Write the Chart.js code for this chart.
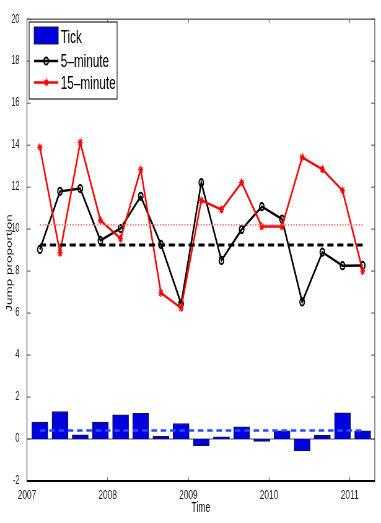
<!DOCTYPE html>
<html>
<head>
<meta charset="utf-8">
<script src="https://cdn.jsdelivr.net/npm/chart.js@4.4.1/dist/chart.umd.min.js"></script>
<style>
html, body { margin: 0; padding: 0; overflow: hidden; background: #fff; }
/* the reference is squeezed sideways, so draw wide and compress */
#wrap { position: absolute; left: 0; top: 0; width: 615px; height: 523px; transform: scaleX(0.6195); transform-origin: 0 0; }
</style>
</head>
<body>
<div id="wrap"><canvas id="jumpChart" width="615" height="523"></canvas></div>
<script>
const quarters = [2007.16, 2007.41, 2007.66, 2007.91, 2008.16, 2008.41, 2008.66, 2008.91, 2009.16, 2009.41, 2009.66, 2009.91, 2010.16, 2010.41, 2010.66, 2010.91, 2011.16];
const tickJumps = [0.81, 1.31, 0.20, 0.81, 1.15, 1.22, 0.13, 0.74, -0.32, 0.11, 0.58, -0.11, 0.39, -0.57, 0.17, 1.25, 0.39];
const fiveMinJumps = [9.03, 11.80, 11.93, 9.46, 10.03, 11.56, 9.27, 6.45, 12.21, 8.51, 9.98, 11.07, 10.48, 6.53, 8.90, 8.26, 8.27];
const fifteenMinJumps = [13.90, 8.87, 14.13, 10.42, 9.55, 12.84, 6.96, 6.24, 11.37, 10.93, 12.22, 10.12, 10.12, 13.42, 12.85, 11.84, 8.00];
const tickMean = 0.40;
const fiveMinMean = 9.24;
const fifteenMinMean = 10.20;
const legendLabels = ['Tick', '5\u2013minute', '15\u2013minute'];
const yTitle = 'Jump proportion';

const FONT = "'Liberation Sans', Arial, Helvetica, sans-serif";
const BAR_BLUE = '#0000dd';

function points(values) {
    return quarters.map((q, i) => ({ x: q, y: values[i] }));
}
function meanLine(m) {
    return [{ x: quarters[0], y: m }, { x: quarters[quarters.length - 1], y: m }];
}

// box round the plot, inward tick marks, zero baseline, legend, y title
const framePlugin = {
    id: 'frame',
    beforeDatasetsDraw(chart) {
        const { ctx, chartArea: a, scales: { y } } = chart;
        const y0 = y.getPixelForValue(0);
        ctx.save();
        ctx.strokeStyle = '#8a8a8a';
        ctx.lineWidth = 1.5;
        ctx.beginPath();
        ctx.moveTo(a.left, y0);
        ctx.lineTo(a.right, y0);
        ctx.stroke();
        ctx.restore();
    },
    afterDatasetsDraw(chart) {
        const { ctx, chartArea: a, scales: { x, y } } = chart;
        ctx.save();
        ctx.strokeStyle = '#555';
        ctx.lineWidth = 1.3;
        ctx.strokeRect(a.left, a.top, a.right - a.left, a.bottom - a.top);
        ctx.lineWidth = 1;
        ctx.beginPath();
        y.ticks.forEach(t => {
            const py = y.getPixelForValue(t.value);
            ctx.moveTo(a.left, py); ctx.lineTo(a.left + 6, py);
            ctx.moveTo(a.right, py); ctx.lineTo(a.right - 6, py);
        });
        x.ticks.forEach(t => {
            const px = x.getPixelForValue(t.value);
            ctx.moveTo(px, a.bottom); ctx.lineTo(px, a.bottom - 4);
            ctx.moveTo(px, a.top); ctx.lineTo(px, a.top + 4);
        });
        ctx.stroke();
        ctx.strokeStyle = '#000';
        ctx.lineWidth = 2;
        ctx.beginPath();
        ctx.moveTo(a.left, a.bottom);
        ctx.lineTo(a.right, a.bottom);
        ctx.stroke();
        ctx.restore();
    },
    afterDraw(chart) {
        const ctx = chart.ctx;
        ctx.save();
        // y axis title, sitting a bit below the middle like the original
        ctx.save();
        ctx.translate(15, 263);
        ctx.rotate(-Math.PI / 2);
        ctx.fillStyle = '#111';
        ctx.font = '13.5px ' + FONT;
        ctx.textAlign = 'center';
        ctx.textBaseline = 'middle';
        ctx.fillText(yTitle, 0, 0);
        ctx.restore();

        ctx.fillStyle = '#fff';
        ctx.fillRect(47, 22, 142, 77);
        ctx.strokeStyle = '#222';
        ctx.lineWidth = 1.2;
        ctx.strokeRect(47, 22, 142, 77);

        ctx.fillStyle = BAR_BLUE;
        ctx.fillRect(55, 27, 39, 17);
        ctx.strokeStyle = '#222';
        ctx.lineWidth = 1;
        ctx.strokeRect(55, 27, 39, 17);

        ctx.lineWidth = 2.5;
        ctx.strokeStyle = '#000';
        ctx.beginPath(); ctx.moveTo(55, 61); ctx.lineTo(94, 61); ctx.stroke();
        ctx.lineWidth = 2;
        ctx.beginPath(); ctx.arc(74.5, 61, 3.6, 0, Math.PI * 2); ctx.stroke();

        ctx.strokeStyle = '#ff0000';
        ctx.lineWidth = 2.5;
        ctx.beginPath(); ctx.moveTo(55, 82.5); ctx.lineTo(94, 82.5); ctx.stroke();
        ctx.lineWidth = 1.5;
        ctx.beginPath();
        ctx.moveTo(74.5, 78.5); ctx.lineTo(74.5, 86.5);
        ctx.moveTo(70.5, 82.5); ctx.lineTo(78.5, 82.5);
        ctx.moveTo(71.7, 79.7); ctx.lineTo(77.3, 85.3);
        ctx.moveTo(77.3, 79.7); ctx.lineTo(71.7, 85.3);
        ctx.stroke();

        ctx.fillStyle = '#000';
        ctx.font = '19px ' + FONT;
        ctx.textBaseline = 'alphabetic';
        ctx.fillText(legendLabels[0], 98, 43);
        ctx.fillText(legendLabels[1], 98, 67);
        ctx.fillText(legendLabels[2], 98, 88.5);
        ctx.restore();
    }
};

const ctx = document.getElementById('jumpChart').getContext('2d');
const chart = new Chart(ctx, {
    type: 'bar',
    data: {
        datasets: [
            {
                type: 'line',
                label: 'Tick mean',
                data: meanLine(tickMean),
                borderColor: '#2a4bff',
                borderWidth: 2.5,
                borderDash: [9, 6],
                pointRadius: 0,
                order: 0
            },
            {
                type: 'line',
                label: '5-minute mean',
                data: meanLine(fiveMinMean),
                borderColor: '#000',
                borderWidth: 3,
                borderDash: [10, 6],
                pointRadius: 0,
                order: 0
            },
            {
                type: 'line',
                label: '15-minute mean',
                data: meanLine(fifteenMinMean),
                borderColor: '#ff6a6a',
                borderWidth: 1.8,
                borderDash: [1.8, 2.6],
                pointRadius: 0,
                order: 0
            },
            {
                type: 'line',
                label: legendLabels[2],
                data: points(fifteenMinJumps),
                borderColor: '#ff0000',
                borderWidth: 2.5,
                pointStyle: 'star',
                pointRadius: 4,
                pointBorderWidth: 1.5,
                pointBorderColor: '#ff0000',
                tension: 0,
                order: 2
            },
            {
                type: 'line',
                label: legendLabels[1],
                data: points(fiveMinJumps),
                borderColor: '#000',
                borderWidth: 2.5,
                pointStyle: 'circle',
                pointRadius: 3.6,
                pointBorderWidth: 2,
                pointBorderColor: '#000',
                pointBackgroundColor: 'rgba(0,0,0,0)',
                tension: 0,
                order: 3
            },
            {
                label: legendLabels[0],
                data: points(tickJumps),
                backgroundColor: BAR_BLUE,
                borderColor: '#1a1a1a',
                borderWidth: 1,
                barThickness: 26,
                order: 4
            }
        ]
    },
    options: {
        responsive: false,
        animation: false,
        layout: { padding: { top: 17, right: 10, left: 0, bottom: 0 } },
        scales: {
            x: {
                type: 'linear',
                offset: false,
                min: 2007,
                max: 2011.31,
                grid: { display: false, drawTicks: false },
                border: { display: false },
                ticks: {
                    stepSize: 1,
                    includeBounds: false,
                    padding: 6,
                    color: '#222',
                    font: { family: FONT, size: 13.5 },
                    callback: v => String(v)
                },
                title: {
                    display: true,
                    text: 'Time',
                    color: '#111',
                    font: { family: FONT, size: 14 },
                    padding: { top: 0, bottom: 6 }
                },
                afterFit: s => { s.height = 42; }
            },
            y: {
                min: -2,
                max: 20,
                grid: { display: false, drawTicks: false },
                border: { display: false },
                ticks: {
                    stepSize: 2,
                    padding: 12,
                    color: '#222',
                    font: { family: FONT, size: 12 }
                },
                afterFit: s => { s.width = 43.5; }
            }
        },
        plugins: {
            legend: { display: false },
            tooltip: { enabled: false }
        }
    },
    plugins: [framePlugin]
});
</script>
</body>
</html>
